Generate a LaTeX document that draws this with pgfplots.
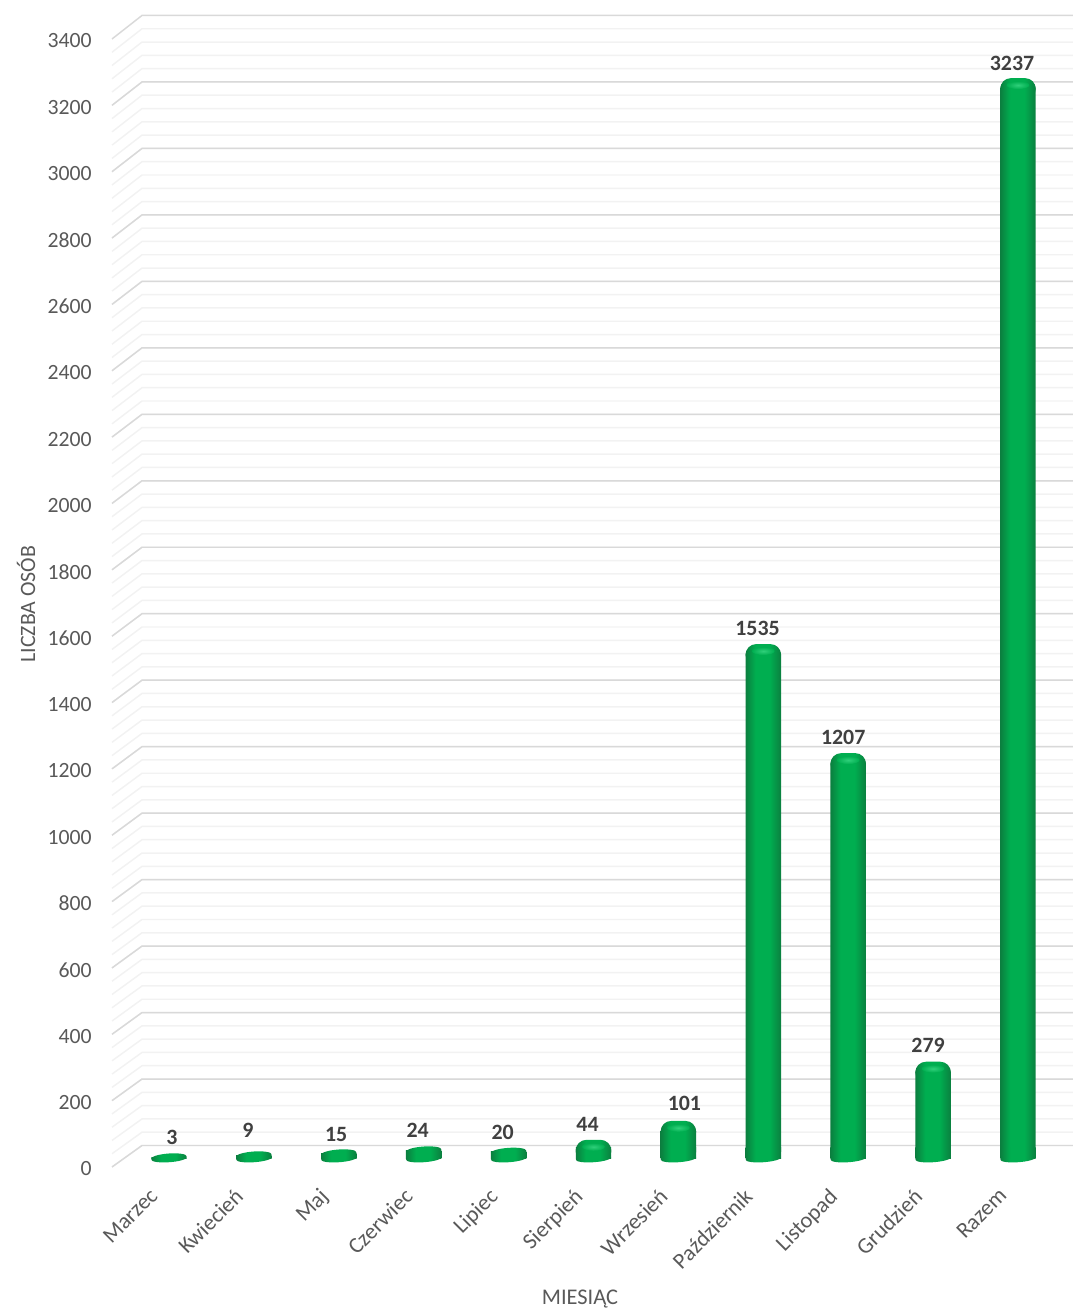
\documentclass[border=0pt]{standalone}
\usepackage{fontspec}
\setmainfont{Carlito}
\usepackage{pgfplots}
\usepackage{pgfplotstable}
\pgfplotsset{compat=1.18}
\usetikzlibrary{shapes.geometric}

\definecolor{txt}{HTML}{595959}
\definecolor{lab}{HTML}{404040}
\definecolor{gridmaj}{HTML}{D9D9D9}
\definecolor{gridmin}{HTML}{F2F2F2}
\definecolor{cyledge}{HTML}{0B7F3F}
\definecolor{cylmid}{HTML}{00AE50}
\definecolor{cylhi}{HTML}{2FD07A}
\pgfdeclarehorizontalshading{cyl}{100bp}{color(0bp)=(cyledge); color(25bp)=(cyledge); color(39bp)=(cylmid); color(59bp)=(cylmid); color(75bp)=(cyledge); color(100bp)=(cyledge)}

% dx, dy: where each value label sits against its bar, in pt
\pgfplotstableread{
i  v    dx    dy
0  3    2.25  15.4
1  9   -4.5   19.1
2  15  -2     14.6
3  24  -4.5   15.4
4  20  -4.5   14.9
5  44  -4.5   14.9
6  101  4.5   15.8
7  1535 -4.3  15
8  1207 -3.75 15
9  279  -3.75 15.5
10 3237 -4.5  14.3
}\monthdata

\begin{document}
\begin{tikzpicture}
\path[use as bounding box] (0,0) rectangle (804.75pt,983.25pt);

% walls and value axis
\begin{axis}[
    at={(84pt,108pt)},anchor=south west,
    scale only axis,width=720.75pt,height=846pt,
    xmin=112,xmax=1073,ymin=0,ymax=3400,
    clip=false,
    axis line style={draw=none},
    major tick length=0pt,
    xtick=\empty,
    ytick distance=200,
    /pgf/number format/assume math mode=true,
    /pgf/number format/1000 sep={},
    yticklabel style={font=\fontsize{16.3}{18}\selectfont,text=txt,anchor=east,inner sep=0pt,xshift=-15pt,yshift=-1.5pt},
    ylabel={LICZBA OSÓB},
    ylabel style={font=\fontsize{16.4}{18}\selectfont,text=txt,at={(axis description cs:-0.0895,0.499)},anchor=center},
]
\pgfplotsinvokeforeach{0,40,...,3360}{
  \draw[gridmin,line width=1.1pt] (axis cs:112,#1) -- (axis cs:142,{#1*1.0018+64.8}) -- (axis cs:1073,{#1*1.0018+64.8});
}
\pgfplotsinvokeforeach{0,200,...,3400}{
  \draw[gridmaj,line width=1.1pt] (axis cs:112,#1) -- (axis cs:142,{#1*1.0018+64.8}) -- (axis cs:1073,{#1*1.0018+64.8});
}
\end{axis}

% cylinders
\begin{axis}[
    at={(0pt,104.25pt)},anchor=south west,
    scale only axis,width=804.75pt,height=879pt,
    xmin=-1.9906,xmax=10.648,ymin=-40.6,ymax=3484.2,
    clip=false,
    axis line style={draw=none},
    major tick length=0pt,
    ytick=\empty,
    xtick={0,...,10},
    xticklabels={Marzec,Kwiecień,Maj,Czerwiec,Lipiec,Sierpień,Wrzesień,Październik,Listopad,Grudzień,Razem},
    % shifts here act along the rotated text
    xticklabel style={font=\fontsize{16.8}{18}\selectfont,text=txt,rotate=45,anchor=north east,inner sep=0pt,xshift=-18.7pt,yshift=3pt},
    xlabel={MIESIĄC},
    xlabel style={font=\fontsize{16.8}{18}\selectfont,text=txt,at={(axis description cs:0.5405,-0.1085)},anchor=center},
    unbounded coords=discard,
]
% foot of every cylinder
\addplot[draw=none,mark=none,nodes near coords={},
    nodes near coords style={ellipse,inner sep=0pt,minimum width=26.6pt,minimum height=5.6pt,shade,shading=cyl,anchor=center,rotate=4}] coordinates {
(0,0) (1,0) (2,0) (3,0) (4,0) (5,0) (6,0) (7,0) (8,0) (9,0) (10,0)
};
\addplot[draw=none,mark=none,nodes near coords={},
    nodes near coords style={rectangle,inner sep=0pt,minimum width=26.6pt,minimum height=8pt,shade,shading=cyl,anchor=center,yshift=4pt}] coordinates {
(5,0) (6,0) (7,0) (8,0) (9,0) (10,0)
};
% one path per bar, so that the shading runs across each bar on its own
\pgfplotsinvokeforeach{0,...,4}{
\addplot[ybar,bar width=26.6pt,bar shift=0pt,draw=none,shade,shading=cyl,
    x filter/.expression={x==#1 ? x : nan}] table[x=i,y=v] {\monthdata};
}
\pgfplotsinvokeforeach{5,...,10}{
\addplot[ybar,bar width=26.6pt,bar shift=0pt,draw=none,shade,shading=cyl,rounded corners=5pt,
    x filter/.expression={x==#1 ? x : nan}] table[x=i,y=v] {\monthdata};
}
% tops: flat discs for the small values, domes for the others
\addplot[draw=none,mark=none,nodes near coords={},
    y filter/.expression={y<30 ? y : nan},
    nodes near coords style={ellipse,inner sep=0pt,minimum width=26.6pt,minimum height=6pt,shade,shading=cyl,anchor=center,rotate=4}]
    table[x=i,y=v] {\monthdata};
\addplot[draw=none,mark=none,nodes near coords={},
    y filter/.expression={y>30 ? y : nan},
    nodes near coords style={rectangle,rounded corners=7.9pt,inner sep=0pt,minimum width=26.6pt,minimum height=16pt,shade,shading=cyl,anchor=center,yshift=-5pt}]
    table[x=i,y=v] {\monthdata};
\addplot[draw=none,mark=none,nodes near coords={},
    y filter/.expression={y>30 ? y : nan},
    nodes near coords style={ellipse,inner sep=0pt,minimum width=17pt,minimum height=6pt,shade,inner color=cylhi,outer color=cylmid,anchor=center,yshift=-2.2pt}]
    table[x=i,y=v] {\monthdata};
% value labels
\addplot[draw=none,mark=none,
    visualization depends on={\thisrow{dx} \as \dxv},
    visualization depends on={\thisrow{dy} \as \dyv},
    nodes near coords,
    nodes near coords style={font=\fontsize{16.4}{18}\selectfont\bfseries,text=lab,anchor=center,xshift=\dxv pt,yshift=\dyv pt,
      /pgf/number format/assume math mode=true,/pgf/number format/1000 sep={}}]
    table[x=i,y=v] {\monthdata};
\end{axis}
\end{tikzpicture}
\end{document}
